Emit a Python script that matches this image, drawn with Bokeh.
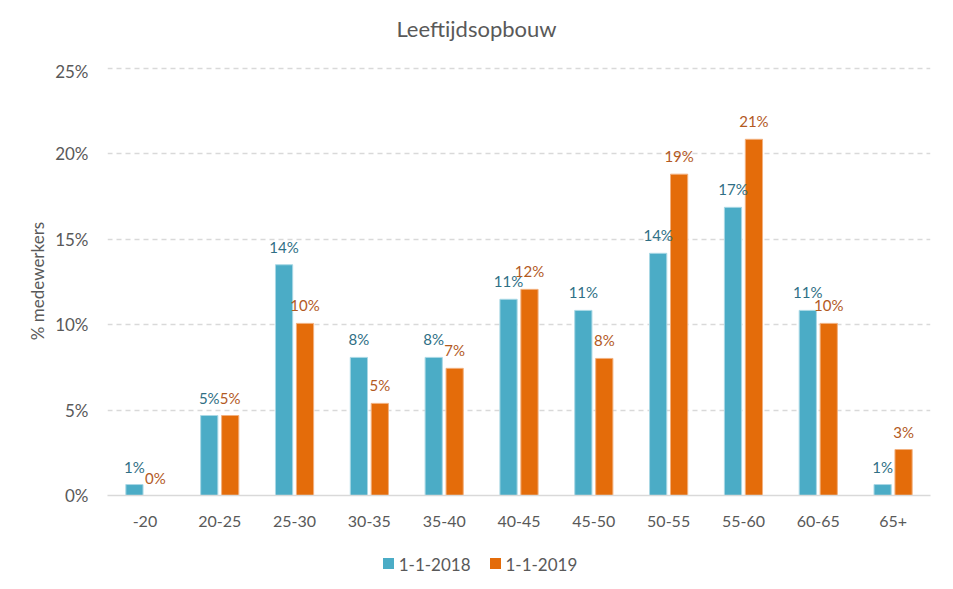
from bokeh.plotting import figure
from bokeh.layouts import column
from bokeh.models import (ColumnDataSource, FactorRange,
                          SingleIntervalTicker, PrintfTickFormatter, Div)
from bokeh.transform import dodge
from bokeh.core.properties import value
from bokeh.embed import file_html
from bokeh.resources import INLINE

categories = ["-20", "20-25", "25-30", "30-35", "35-40", "40-45", "45-50",
              "50-55", "55-60", "60-65", "65+"]
series_2018 = [0.64, 4.68, 13.5, 8.08, 8.08, 11.48, 10.83, 14.17, 16.86, 10.83, 0.64]
series_2019 = [0.0, 4.68, 10.07, 5.39, 7.44, 12.06, 8.02, 18.8, 20.84, 10.07, 2.69]
series_names = ["1-1-2018", "1-1-2019"]
title_text = "Leeftijdsopbouw"
y_label = "% medewerkers"

FONT = "Lato"
GREY = "#595959"
BLUE = "#4BACC6"
ORANGE = "#E46C0A"
BLUE_TXT = "#2F6F85"
ORANGE_TXT = "#B35A1F"

src = ColumnDataSource(dict(
    cat=categories,
    a=series_2018,
    b=series_2019,
    la=[f"{v:.0f}%" for v in series_2018],
    lb=[f"{v:.0f}%" for v in series_2019],
))

title_div = Div(text=title_text, width=953, height=60, margin=0,
                styles={"font-family": FONT, "font-size": "22px",
                        "color": GREY, "text-align": "center",
                        "line-height": "58px", "width": "953px",
                        "background": "white"})

p = figure(x_range=FactorRange(*categories, range_padding=0), y_range=(0, 25.1),
           frame_width=823, frame_height=429, output_backend="svg",
           toolbar_location=None, margin=0,
           min_border_left=107, min_border_right=23, min_border_top=6,
           min_border_bottom=50)
p.outline_line_color = None
p.background_fill_color = "white"
p.border_fill_color = "white"

ra = p.vbar(x=dodge("cat", -0.14, range=p.x_range), top="a", width=0.23,
            source=src, fill_color=BLUE, line_color="#A9D8E5", line_width=1)
rb = p.vbar(x=dodge("cat", 0.14, range=p.x_range), top="b", width=0.23,
            source=src, fill_color=ORANGE, line_color="#F2B07E", line_width=1)

p.text(x=dodge("cat", -0.14, range=p.x_range), y="a", text="la", source=src,
       text_align="center", text_baseline="bottom", y_offset=-9,
       text_font=value(FONT), text_font_size="15px", text_color=BLUE_TXT)
p.text(x=dodge("cat", 0.14, range=p.x_range), y="b", text="lb", source=src,
       text_align="center", text_baseline="bottom", y_offset=-9,
       text_font=value(FONT), text_font_size="15px", text_color=ORANGE_TXT)

p.xgrid.grid_line_color = None
p.ygrid.grid_line_color = "#D9D9D9"
p.ygrid.grid_line_dash = "5 4"
p.ygrid.grid_line_width = 1.5

p.yaxis.ticker = SingleIntervalTicker(interval=5)
p.yaxis.formatter = PrintfTickFormatter(format="%d%%")
p.yaxis.axis_line_color = None
p.yaxis.major_tick_line_color = None
p.yaxis.minor_tick_line_color = None
p.yaxis.major_label_text_font = FONT
p.yaxis.major_label_text_font_size = "17px"
p.yaxis.major_label_text_color = GREY
p.yaxis.major_label_standoff = 13
p.yaxis.axis_label = y_label
p.yaxis.axis_label_text_font = FONT
p.yaxis.axis_label_text_font_size = "17px"
p.yaxis.axis_label_text_font_style = "normal"
p.yaxis.axis_label_text_color = GREY
p.yaxis.axis_label_standoff = 4

p.xaxis.axis_line_color = "#D9D9D9"
p.xaxis.axis_line_width = 1.5
p.xaxis.major_tick_line_color = None
p.xaxis.minor_tick_line_color = None
p.xaxis.major_label_text_font = FONT
p.xaxis.major_label_text_font_size = "16px"
p.xaxis.major_label_text_color = GREY
p.xaxis.major_label_standoff = 14


def swatch(color):
    return ('<span style="display:inline-block;width:11px;height:11px;'
            f'background:{color};margin-right:5px;vertical-align:middle;'
            'position:relative;top:-1px"></span>')


legend_html = (swatch(BLUE) + f'<span style="vertical-align:middle">{series_names[0]}</span>'
               + '<span style="display:inline-block;width:19px"></span>'
               + swatch(ORANGE) + f'<span style="vertical-align:middle">{series_names[1]}</span>')

legend_div = Div(text=legend_html, width=953, height=44, margin=0,
                 styles={"font-family": FONT, "font-size": "17px",
                         "color": GREY, "text-align": "center",
                         "line-height": "36px", "width": "953px",
                         "padding-left": "7px", "box-sizing": "border-box",
                         "background": "white"})

layout = column(title_div, p, legend_div, spacing=0, margin=0)
open("out.html", "w").write(file_html(layout, INLINE))
